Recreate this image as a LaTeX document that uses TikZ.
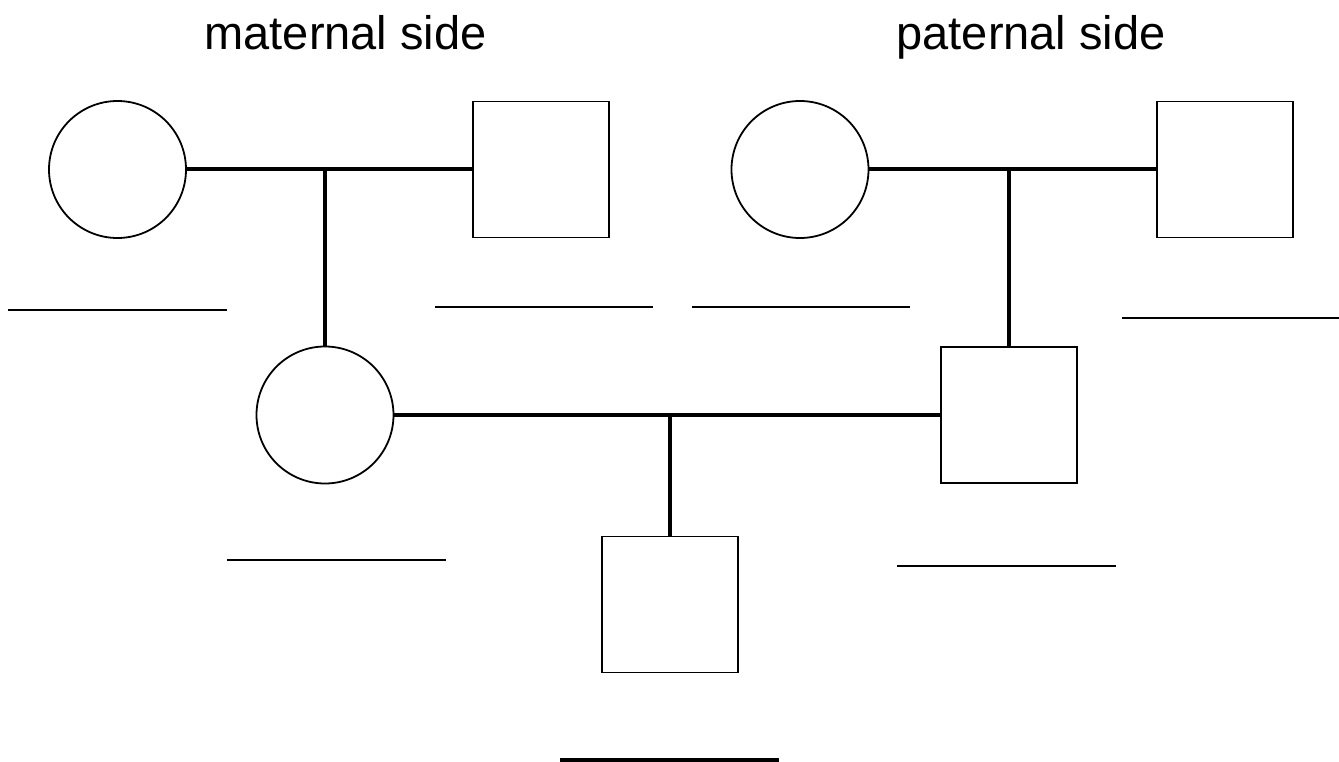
\documentclass[tikz,border=0pt]{standalone}
\usepackage{fontspec}
\setmainfont{Liberation Sans}
\begin{document}
\begin{tikzpicture}[x=1pt,y=-1pt,
  fem/.style={circle, draw, line width=1.8pt, minimum size=137pt, inner sep=0pt},
  mal/.style={rectangle, draw, line width=1.8pt, minimum size=136pt, inner sep=0pt},
  tie/.style={line width=4pt},
  blank/.style={line width=2pt}]
\useasboundingbox (0,0) rectangle (1339,762);
\node[anchor=base west, font=\fontsize{47}{56}\selectfont] (mtxt) at (201,50){maternal side};
\node[anchor=base west, font=\fontsize{47}{56}\selectfont] (ptxt) at (893,50){paternal side};
\node[fem] (mgm) at (117.5,169.5){};
\node[mal] (mgf) at (541,169.5){};
\node[fem] (pgm) at (800,169.5){};
\node[mal] (pgf) at (1225,169.5){};
\node[fem] (mom) at (325,415){};
\node[mal] (dad) at (1009,415){};
\node[mal] (son) at (670,604.5){};
\coordinate (mmid) at (325,169.5);
\coordinate (pmid) at (1009,169.5);
\coordinate (cmid) at (670,415);
\draw[tie] (mgm.east) -- (mgf.west);
\draw[tie] (pgm.east) -- (pgf.west);
\draw[tie] (mom.east) -- (dad.west);
\draw[tie] (mmid) -- (mom.north);
\draw[tie] (pmid) -- (dad.north);
\draw[tie] (cmid) -- (son.north);
\draw[blank] (8,310) -- (227,310);
\draw[blank] (435,307) -- (653,307);
\draw[blank] (692,307) -- (910,307);
\draw[blank] (1122,318) -- (1339,318);
\draw[blank] (227,560) -- (446,560);
\draw[blank] (897,566) -- (1116,566);
\draw[line width=4pt] (560,760) -- (779,760);

\end{tikzpicture}
\end{document}
